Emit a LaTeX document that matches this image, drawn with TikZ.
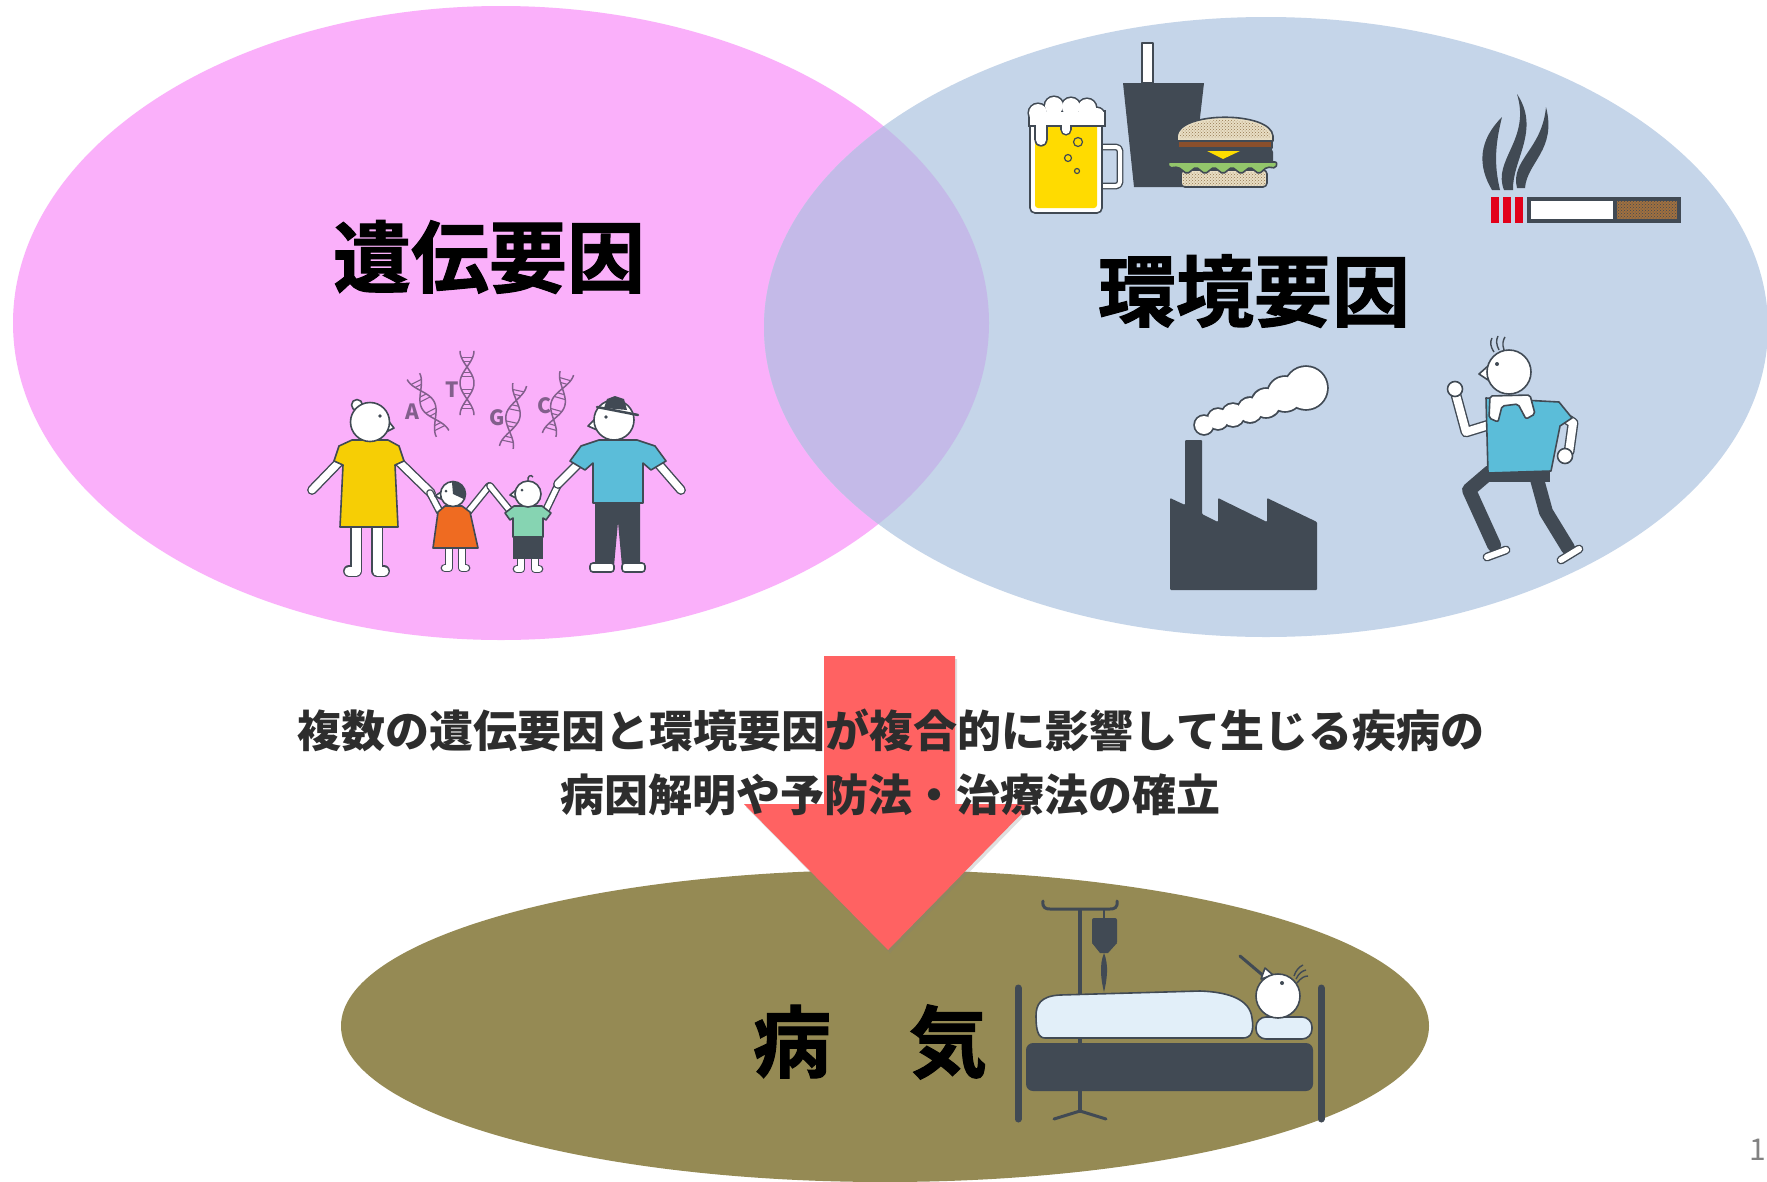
\documentclass[tikz,border=0pt]{standalone}
\usepackage{fontspec}
\newfontfamily\jpfont{Noto Sans CJK JP}
\newfontfamily\jpheavy{Noto Sans CJK JP}[UprightFont=* Bold,FakeBold=1.4]
\usetikzlibrary{shadows,patterns}

\begin{document}
\begin{tikzpicture}[x=1pt,y=-1pt,
    outline/.style={draw=ink,line width=1.6pt,line join=round},
    limb/.style={draw=ink,line width=1.4pt,double=white,double distance=#1,line cap=round,line join=round},
    dnastrand/.style={draw=dna,line width=1.5pt},
    dnaletter/.style={font=\jpfont\bfseries\fontsize{21}{21}\selectfont,text=dna,inner sep=0pt},
    title/.style={font=\jpheavy\fontsize{78}{82}\selectfont,inner sep=0pt},
    caption/.style={font=\jpfont\bfseries\fontsize{44}{50}\selectfont,text=caption_text,inner sep=0pt}]
    \definecolor{venn_gene}{RGB}{250,176,250}
    \definecolor{venn_env}{RGB}{197,213,233}
    \definecolor{venn_both}{RGB}{196,186,232}
    \definecolor{disease_bg}{RGB}{149,138,84}
    \definecolor{arrow_red}{RGB}{255,98,98}
    \definecolor{caption_text}{RGB}{45,45,45}
    \definecolor{page_gray}{RGB}{130,130,130}
    \definecolor{ink}{RGB}{65,74,84}
    \definecolor{dna}{RGB}{130,95,140}
    \definecolor{dress_yellow}{RGB}{246,206,5}
    \definecolor{girl_orange}{RGB}{239,107,33}
    \definecolor{boy_mint}{RGB}{134,212,178}
    \definecolor{dad_blue}{RGB}{91,189,217}
    \definecolor{beer_yellow}{RGB}{255,219,0}
    \definecolor{bun}{RGB}{232,222,196}
    \definecolor{bun_dots}{RGB}{150,120,80}
    \definecolor{patty_brown}{RGB}{138,79,44}
    \definecolor{lettuce}{RGB}{147,198,107}
    \definecolor{cheese}{RGB}{255,221,0}
    \definecolor{cig_red}{RGB}{226,0,26}
    \definecolor{filter_brown}{RGB}{160,112,63}
    \definecolor{blanket}{RGB}{226,239,249}

    \useasboundingbox (0,0) rectangle (1767,1181);
    \fill[white] (0,0) rectangle (1767,1181);

    \fill[venn_gene] (501,323) ellipse [x radius=488,y radius=317];
    \fill[venn_env] (1266,327) ellipse [x radius=502,y radius=310];
    \begin{scope}
        \clip (501,323) ellipse [x radius=488,y radius=317];
        \fill[venn_both] (1266,327) ellipse [x radius=502,y radius=310];
    \end{scope}
    \fill[disease_bg] (885,1026) ellipse [x radius=544,y radius=156];

    \fill[arrow_red,drop shadow={shadow xshift=2pt,shadow yshift=-3pt,opacity=0.25}]
        (824,656)--(955,656)--(955,804)--(1031,804)--(888,950)--(744,804)--(824,804)--cycle;

    % family
    \draw[limb=7pt] (345,456)--(312,490);
    \draw[limb=7pt] (393,456)--(431,493);
    \draw[limb=9pt] (356,525)--(356,571)--(349,571);
    \draw[limb=9pt] (377,525)--(377,571)--(384,571);
    \draw[outline,fill=dress_yellow] (352,440)--(388,440)--(399,446)--(404,461)--(395,465)--(398,527)--(340,527)--(343,465)--(334,461)--(339,446)--cycle;
    \draw[outline,fill=white] (357,405) circle (5.5);
    \draw[outline,fill=white] (386,418)--(394,428)--(386,432)--cycle;
    \draw[outline,fill=white] (370,422) circle (19.5);
    \fill[ink] (380,416) circle (1.8);

    \draw[limb=5pt] (440,512)--(430,493);
    \draw[limb=5pt] (468,512)--(489,486);
    \draw[limb=6pt] (449,547)--(449,568)--(445,568);
    \draw[limb=6pt] (462,547)--(462,568)--(466,568);
    \draw[outline,fill=girl_orange] (445,506)--(462,506)--(470,512)--(478,548)--(433,548)--(438,512)--cycle;
    \draw[outline,fill=white] (441,492)--(435,496)--(441,499)--cycle;
    \draw[outline,fill=white] (453,494) circle (12.5);
    \fill[ink] (453,494) -- ++(-95:12.5) arc (-95:25:12.5) -- cycle;
    \fill[ink] (446,491) circle (1.5);

    \draw[limb=5pt] (511,512)--(490,486);
    \draw[limb=5pt] (545,512)--(558,485);
    \draw[limb=6pt] (521,557)--(521,569)--(517,569);
    \draw[limb=6pt] (535,557)--(535,569)--(539,569);
    \fill[ink] (513,535) rectangle (543,559);
    \draw[outline,fill=boy_mint] (514,506)--(542,506)--(551,513)--(546,520)--(543,518)--(543,537)--(513,537)--(513,518)--(510,520)--(505,513)--cycle;
    \draw[outline,fill=white] (516,490)--(510,495)--(516,498)--cycle;
    \draw[outline,fill=white] (528,494) circle (13);
    \draw[ink,line width=1.4pt] (528,481) .. controls (527,476) and (531,474) .. (533,477);
    \fill[ink] (522,490) circle (1.5);

    \draw[limb=7pt] (582,460)--(558,484);
    \draw[limb=7pt] (655,460)--(681,490);
    \fill[ink] (595,501)--(640,501)--(640,566)--(622,566)--(618,522)--(614,566)--(595,566)--cycle;
    \draw[outline,fill=white,rounded corners=3] (590,563) rectangle (614,572);
    \draw[outline,fill=white,rounded corners=3] (622,563) rectangle (645,572);
    \draw[outline,fill=dad_blue] (599,440)--(637,440)--(655,446)--(666,461)--(651,470)--(643,463)--(643,503)--(593,503)--(593,463)--(585,470)--(570,461)--(581,446)--cycle;
    \draw[outline,fill=white] (597,417)--(588,426)--(597,430)--cycle;
    \draw[outline,fill=white] (614,420) circle (20);
    \fill[ink] (604,408)--(607,399)--(615,396)--(624,399)--(627,410)--cycle;
    \draw[ink,line width=2.5pt,line cap=round] (597,407)--(638,415);
    \fill[ink] (606,417) circle (1.8);

    \foreach \hx/\hy/\ha/\base/\lx/\ly in {428/405/27/A/412/412, 467/383/0/T/452/390, 513/416/-12/G/497/418, 558/404/-16/C/544/406} {
        \begin{scope}[shift={(\hx,\hy)},rotate=\ha]
            \draw[dnastrand] plot[domain=90:450,samples=40] ({7*sin(\x)},{(\x-270)/5.6});
            \draw[dnastrand] plot[domain=90:450,samples=40] ({-7*sin(\x)},{(\x-270)/5.6});
            \foreach \t in {125,150,210,235,305,330,390,415}
                \draw[dna,line width=1.1pt] ({7*sin(\t)},{(\t-270)/5.6}) -- ({-7*sin(\t)},{(\t-270)/5.6});
        \end{scope}
        \node[dnaletter] (base\base) at (\lx,\ly) {\base};
    }

    % food and drink
    \fill[ink] (1123,83)--(1204,83)--(1192,187)--(1134,187)--cycle;
    \draw[outline,fill=white] (1142,43) rectangle (1153,83);
    \draw[limb=4pt,rounded corners=4] (1100,147)--(1120,147)--(1120,186)--(1100,186);
    \draw[outline,fill=white,rounded corners=5] (1030,112) rectangle (1102,213);
    \fill[beer_yellow,rounded corners=3] (1035,118) rectangle (1097,208);
    \foreach \cx/\cy/\r in {1038/113/9,1054/106/9,1071/107/9,1087/108/9,1097/115/7,1041/140/5,1066/130/4}
        \fill[ink] (\cx,\cy) circle ({\r+1.6});
    \fill[ink] (1028.4,110.4) rectangle (1105.6,126.6);
    \fill[ink] (1034.4,120) rectangle (1047.6,140);
    \fill[ink] (1060.4,120) rectangle (1071.6,130);
    \foreach \cx/\cy/\r in {1038/113/9,1054/106/9,1071/107/9,1087/108/9,1097/115/7,1041/140/5,1066/130/4}
        \fill[white] (\cx,\cy) circle (\r);
    \fill[white] (1030,112) rectangle (1104,125);
    \fill[white] (1036,120) rectangle (1046,140);
    \fill[white] (1062,120) rectangle (1070,130);
    \draw[ink,line width=1.2pt] (1078,142) circle (4.5) (1068,158) circle (3.5) (1077,171) circle (2.5);

    \draw[outline,fill=bun,rounded corners=4] (1181,170) rectangle (1267,187);
    \fill[pattern=crosshatch dots,pattern color=bun_dots] (1183,172) rectangle (1265,185);
    \fill[ink,rounded corners=5] (1175,147) rectangle (1273,166);
    \draw[outline,fill=lettuce,rounded corners=2] (1168,162)--(1277,162)--(1276,168)--(1267,167)--(1259,174)--(1250,167)--(1241,174)--(1232,167)--(1223,174)--(1214,167)--(1205,174)--(1196,167)--(1187,174)--(1178,167)--(1169,168)--cycle;
    \draw[outline,fill=patty_brown] (1178,140) rectangle (1272,148);
    \draw[outline,fill=bun] (1177,141) -- (1177,136) .. controls (1179,111) and (1271,111) .. (1273,136) -- (1273,141) -- cycle;
    \fill[pattern=crosshatch dots,pattern color=bun_dots] (1180,138) -- (1180,135) .. controls (1182,115) and (1268,115) .. (1270,135) -- (1270,138) -- cycle;
    \fill[cheese] (1207,151)--(1240,151)--(1223,159)--cycle;

    % cigarette
    \foreach \sx in {1491,1503,1515}
        \fill[cig_red] (\sx,197) rectangle ({\sx+8},223);
    \fill[ink] (1527,197) rectangle (1681,223);
    \fill[white] (1531,201) rectangle (1613,219);
    \fill[filter_brown] (1617,201) rectangle (1677,219);
    \fill[pattern=crosshatch dots,pattern color=ink] (1617,201) rectangle (1677,219);
    \fill[ink] (1492,190) .. controls (1477,165) and (1479,140) .. (1502,117) .. controls (1495,145) and (1494,165) .. (1500,190) -- cycle;
    \fill[ink] (1504,190) .. controls (1492,160) and (1531,140) .. (1517,94) .. controls (1541,130) and (1512,160) .. (1513,190) -- cycle;
    \fill[ink] (1517,188) .. controls (1510,160) and (1542,150) .. (1546,107) .. controls (1557,150) and (1527,162) .. (1525,188) -- cycle;

    % factory
    \fill[ink,rounded corners=1] (1170,590)--(1170,498)--(1185,505)--(1185,440)--(1202,440)--(1202,514)--(1218,522)--(1218,498)--(1267,522)--(1267,498)--(1317,522)--(1317,590)--cycle;
    \foreach \cx/\cy/\r in {1204/425/9,1218/419/10,1233/415/11,1250/410/12,1266/403/14,1285/394/17,1306/388/21}
        \fill[ink] (\cx,\cy) circle ({\r+1.8});
    \foreach \cx/\cy/\r in {1204/425/9,1218/419/10,1233/415/11,1250/410/12,1266/403/14,1285/394/17,1306/388/21}
        \fill[white] (\cx,\cy) circle (\r);

    % runner
    \draw[ink,line width=14pt,line join=round,line cap=round] (1490,472)--(1469,490)--(1494,545);
    \draw[ink,line width=14pt,line join=round,line cap=round] (1535,472)--(1546,512)--(1568,548);
    \fill[ink] (1486,466) rectangle (1550,482);
    \draw[limb=6pt] (1487,557)--(1506,550);
    \draw[limb=6pt] (1561,560)--(1579,549);
    \draw[limb=8pt] (1492,424)--(1466,432)--(1456,395);
    \draw[outline,fill=white] (1455,389) circle (7.5);
    \draw[limb=8pt] (1556,412)--(1573,423)--(1569,452);
    \draw[outline,fill=white] (1565,456) circle (7.5);
    \draw[outline,fill=dad_blue] (1486,398)--(1559,402)--(1572,418)--(1560,426)--(1551,471)--(1488,473)--cycle;
    \draw[outline,fill=white,rounded corners=2] (1490,396)--(1530,395)--(1535,414)--(1526,419)--(1518,404)--(1502,406)--(1498,422)--(1489,418)--cycle;
    \draw[outline,fill=white] (1488,366)--(1479,374)--(1488,380)--cycle;
    \draw[outline,fill=white] (1509,372) circle (22);
    \fill[ink] (1497,364) circle (2);
    \draw[ink,line width=1.4pt] (1494,352) .. controls (1490,346) and (1490,342) .. (1492,338);
    \draw[ink,line width=1.4pt] (1499,350) .. controls (1496,344) and (1496,340) .. (1498,336);
    \draw[ink,line width=1.4pt] (1504,350) .. controls (1502,344) and (1503,340) .. (1505,337);

    % hospital bed
    \draw[ink,line width=4pt] (1080,908)--(1080,1113);
    \draw[ink,line width=3pt,line cap=round] (1054,1119)--(1080,1111)--(1106,1119);
    \draw[ink,line width=3pt,line cap=round] (1043,901) .. controls (1042,908) and (1046,909) .. (1050,909) -- (1110,909) .. controls (1114,909) and (1118,908) .. (1117,901);
    \draw[ink,line width=2pt] (1104,909)--(1104,919);
    \fill[ink,rounded corners=2] (1092,918) rectangle (1117,944);
    \fill[ink] (1092,943)--(1117,943)--(1108,953)--(1100,953)--cycle;
    \fill[ink] (1104,953) .. controls (1099,965) and (1101,980) .. (1104,992) .. controls (1107,980) and (1109,965) .. (1104,953) -- cycle;
    \draw[ink,line width=7pt,line cap=round] (1018,988)--(1018,1119);
    \draw[ink,line width=7pt,line cap=round] (1321,988)--(1321,1119);
    \fill[ink,rounded corners=7] (1026,1043) rectangle (1313,1091);
    \draw[outline,fill=blanket] (1045,1038) -- (1243,1038) .. controls (1252,1038) and (1254,1030) .. (1252,1018) .. controls (1250,1000) and (1230,992) .. (1200,991) -- (1060,995) .. controls (1040,996) and (1036,1005) .. (1036,1016) .. controls (1036,1030) and (1038,1038) .. (1045,1038) -- cycle;
    \draw[outline,fill=blanket,rounded corners=10] (1256,1017) rectangle (1312,1039);
    \draw[ink,line width=3pt,line cap=round] (1240,956)--(1266,978);
    \draw[outline,fill=white] (1261,979)--(1265,968)--(1273,975)--cycle;
    \draw[outline,fill=white] (1278,996) circle (22);
    \fill[ink] (1282,983) circle (2);
    \draw[ink,line width=1.4pt] (1294,976) .. controls (1296,970) and (1299,967) .. (1303,965);
    \draw[ink,line width=1.4pt] (1296,979) .. controls (1299,973) and (1302,971) .. (1306,970);
    \draw[ink,line width=1.4pt] (1297,983) .. controls (1301,978) and (1304,976) .. (1308,976);

    \node[title] (genetic) at (489,257) {遺伝要因};
    \node[title] (environ) at (1254,291) {環境要因};
    \node[title] (illness) at (870,1042) {病　気};
    \node[caption] (claim) at (891,730) {複数の遺伝要因と環境要因が複合的に影響して生じる疾病の};
    \node[caption] (goal) at (890,795) {病因解明や予防法・治療法の確立};
    \node[font=\jpfont\fontsize{30}{30}\selectfont,text=page_gray,anchor=east,inner sep=0pt] (pagenum) at (1766,1150) {1};
\end{tikzpicture}
\end{document}
